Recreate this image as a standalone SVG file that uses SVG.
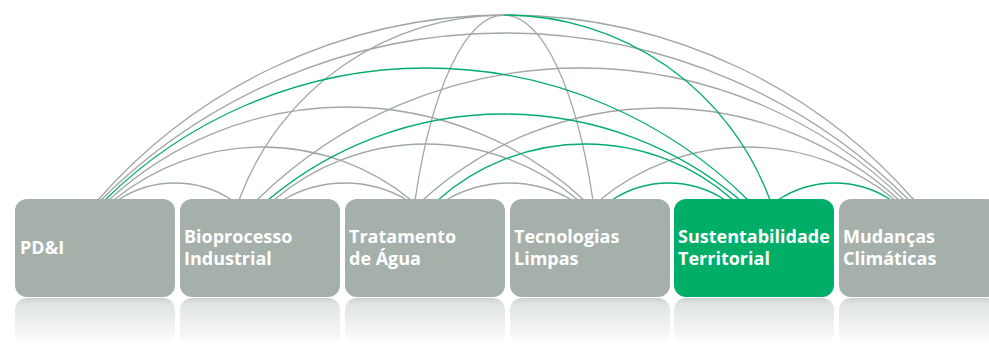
<svg xmlns="http://www.w3.org/2000/svg" width="989" height="346" viewBox="0 0 989 346">
<defs>
<style>
.arc{fill:none;stroke-width:1.3}
.g{stroke:#9fa8a4}
.gr{stroke:#00ad69}
.box{fill:#a6b0ab}
.boxg{fill:#00ae68}
.refl{fill:url(#rg)}
.lbl{fill:#ffffff;font-family:"Open Sans","Liberation Sans",sans-serif;font-weight:700;font-size:18px}
</style>
<linearGradient id="rg" x1="0" y1="0" x2="0" y2="1">
<stop offset="0" stop-color="#cbd2ce"/>
<stop offset="0.12" stop-color="#dfe4e1"/>
<stop offset="1" stop-color="#ffffff"/>
</linearGradient>
</defs>
<rect width="989" height="346" fill="#ffffff"/>
<g id="connectors">
<path class="arc g" d="M118,200 A104.1,104.1 0 0,1 232,200"/>
<path class="arc g" d="M283,200 A121.6,121.6 0 0,1 407,200"/>
<path class="arc g" d="M446,200 A125.2,125.2 0 0,1 572,200"/>
<path class="arc g" d="M114,200 A234.5,234.5 0 0,1 411,200"/>
<path class="arc g" d="M274,200 A234.3,234.3 0 0,1 578,200"/>
<path class="arc g" d="M600,200 A231.7,231.7 0 0,1 895,200"/>
<path class="arc g" d="M109,200 A349.8,349.8 0 0,1 584,200"/>
<path class="arc g" d="M423,200 A353.8,353.8 0 0,1 899,200"/>
<path class="arc g" d="M257,200 A462.4,462.4 0 0,1 904,200"/>
<path class="arc g" d="M101,200 A572.2,572.2 0 0,1 909,200"/>
<path class="arc g" d="M98,200 A542.4,542.4 0 0,1 914,200"/>
<path class="arc g" d="M415.1,200 A99,330 0 0,1 592.9,200"/>
<path class="arc g" d="M239,200 A283,283 0 0,1 504.5,15"/>
<path class="arc gr" d="M504.5,15 A283,283 0 0,1 770,200"/>
<path class="arc gr" d="M612,200 A102.4,102.4 0 0,1 725,200"/>
<path class="arc gr" d="M778,200 A102.4,102.4 0 0,1 891,200"/>
<path class="arc gr" d="M438,200 A222.3,222.3 0 0,1 733,200"/>
<path class="arc gr" d="M268,200 A366.8,366.8 0 0,1 740,200"/>
<path class="arc gr" d="M105,200 A457.5,457.5 0 0,1 748,200"/>
</g>
<g id="node-pdi">
<rect class="refl" x="15" y="298" width="160" height="48" rx="12"/>
<rect class="box" x="15" y="199" width="160" height="98" rx="12"/>
<text class="lbl" x="20" y="254">PD&amp;I</text>
</g>
<g id="node-bioprocesso">
<rect class="refl" x="180" y="298" width="160" height="48" rx="12"/>
<rect class="box" x="180" y="199" width="160" height="98" rx="12"/>
<text class="lbl" x="184" y="243">Bioprocesso</text>
<text class="lbl" x="184" y="265">Industrial</text>
</g>
<g id="node-tratamento">
<rect class="refl" x="345" y="298" width="160" height="48" rx="12"/>
<rect class="box" x="345" y="199" width="160" height="98" rx="12"/>
<text class="lbl" x="349" y="243">Tratamento</text>
<text class="lbl" x="349" y="265">de Água</text>
</g>
<g id="node-tecnologias">
<rect class="refl" x="510" y="298" width="160" height="48" rx="12"/>
<rect class="box" x="510" y="199" width="160" height="98" rx="12"/>
<text class="lbl" x="514" y="243">Tecnologias</text>
<text class="lbl" x="514" y="265">Limpas</text>
</g>
<g id="node-sustentabilidade">
<rect class="refl" x="674" y="298" width="160" height="48" rx="12"/>
<rect class="boxg" x="674" y="199" width="160" height="98" rx="12"/>
<text class="lbl" x="678" y="243">Sustentabilidade</text>
<text class="lbl" x="678" y="265">Territorial</text>
</g>
<g id="node-mudancas">
<rect class="refl" x="839" y="298" width="160" height="48" rx="12"/>
<rect class="box" x="839" y="199" width="160" height="98" rx="12"/>
<text class="lbl" x="843" y="243">Mudanças</text>
<text class="lbl" x="843" y="265">Climáticas</text>
</g>
</svg>
